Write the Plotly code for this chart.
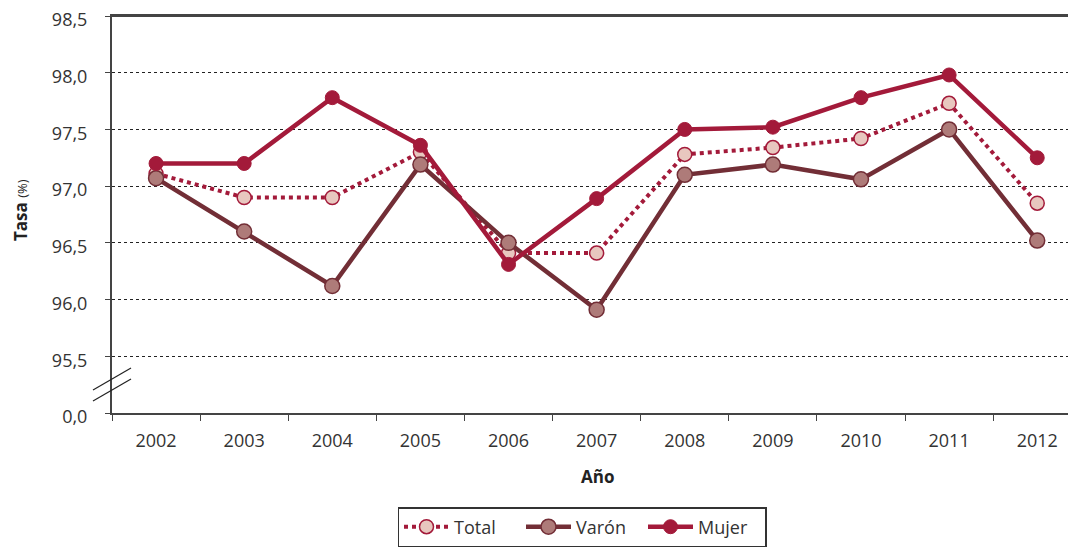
import plotly.graph_objects as go

years = ["2002", "2003", "2004", "2005", "2006", "2007", "2008", "2009", "2010", "2011", "2012"]
total = [97.11, 96.90, 96.90, 97.30, 96.41, 96.41, 97.28, 97.34, 97.42, 97.73, 96.85]
varon = [97.07, 96.60, 96.12, 97.19, 96.50, 95.91, 97.10, 97.19, 97.06, 97.50, 96.52]
mujer = [97.20, 97.20, 97.78, 97.36, 96.31, 96.89, 97.50, 97.52, 97.78, 97.98, 97.25]

y_tickvals = [95.0, 95.5, 96.0, 96.5, 97.0, 97.5, 98.0, 98.5]
y_ticktext = ["0,0", "95,5", "96,0", "96,5", "97,0", "97,5", "98,0", "98,5"]

RED = "#A31A3A"
BROWN = "#722E36"
FONT = "Open Sans"
OFF = 8  # page body margin offset
W, H = 1076 - OFF, 548 - OFF
L, R, T, B = 112 - OFF, 0, 16 - OFF, 135
PW, PH = W - L - R, H - T - B

fig = go.Figure()
fig.add_trace(go.Scatter(
    x=years, y=total, name="Total", mode="lines+markers",
    line=dict(color=RED, width=4, dash="dot"),
    marker=dict(size=14, color="#E8C7BF", line=dict(color=RED, width=1.5)),
))
fig.add_trace(go.Scatter(
    x=years, y=varon, name="Varón", mode="lines+markers",
    line=dict(color=BROWN, width=4.5),
    marker=dict(size=15, color="#AE7B79", line=dict(color=BROWN, width=1.5)),
))
fig.add_trace(go.Scatter(
    x=years, y=mujer, name="Mujer", mode="lines+markers",
    line=dict(color=RED, width=4.5),
    marker=dict(size=14, color=RED, line=dict(color=RED, width=1)),
))

# top frame line
fig.add_shape(type="line", xref="paper", yref="paper", x0=0, x1=1, y0=1, y1=1,
              line=dict(color="#444", width=2), layer="above")

# axis break marks
for dy in (0, 11):
    fig.add_shape(type="line", xref="paper", yref="paper",
                  x0=-19 / PW, x1=19 / PW,
                  y0=(413 - 390 - dy) / PH, y1=(413 - 368 - dy) / PH,
                  line=dict(color="#222", width=1.2))

fig.add_annotation(text="<b>Año</b>", xref="paper", yref="paper",
                   x=(597 - 112) / PW, y=-(476 - 413) / PH, showarrow=False,
                   xanchor="center", yanchor="middle",
                   font=dict(family=FONT, size=17, color="#222"))
fig.add_annotation(text="<b>Tasa</b> <span style='font-size:13px'>(%)</span>",
                   xref="paper", yref="paper",
                   x=-(112 - 20) / PW, y=(413 - 210) / PH, showarrow=False,
                   textangle=-90, xanchor="center", yanchor="middle",
                   font=dict(family=FONT, size=17, color="#222"))

fig.update_layout(
    width=W, height=H,
    margin=dict(l=L, r=R, t=T, b=B, autoexpand=False),
    paper_bgcolor="white", plot_bgcolor="white",
    font=dict(family=FONT, size=17, color="#333"),
    showlegend=True,
    legend=dict(orientation="h", x=(582 - OFF) / W, xanchor="center", xref="container",
                y=1 - (527 - OFF) / H, yanchor="middle", yref="container",
                bordercolor="#333", borderwidth=1.5,
                font=dict(family=FONT, size=18, color="#333"),
                itemwidth=45, entrywidth=62, traceorder="normal"),
    xaxis=dict(
        type="category", range=[-0.5, 10.44], automargin=False,
        showline=True, linecolor="#444", linewidth=2, mirror=True,
        ticks="outside", tickson="boundaries", ticklen=6, tickcolor="#444",
        showgrid=False, tickfont=dict(size=18), ticklabelstandoff=10,
        ticklabeloverflow="allow",
    ),
    yaxis=dict(
        range=[95.0, 98.5], tickvals=y_tickvals, ticktext=y_ticktext,
        automargin=False,
        showline=True, linecolor="#444", linewidth=2,
        ticks="outside", ticklen=5, tickcolor="#444",
        showgrid=True, gridcolor="#222", gridwidth=1, griddash="dot",
        tickfont=dict(size=18), ticklabelstandoff=14, ticklabelshift=4,
        ticklabeloverflow="allow",
        zeroline=False,
    ),
)

fig.write_html("out.html")
